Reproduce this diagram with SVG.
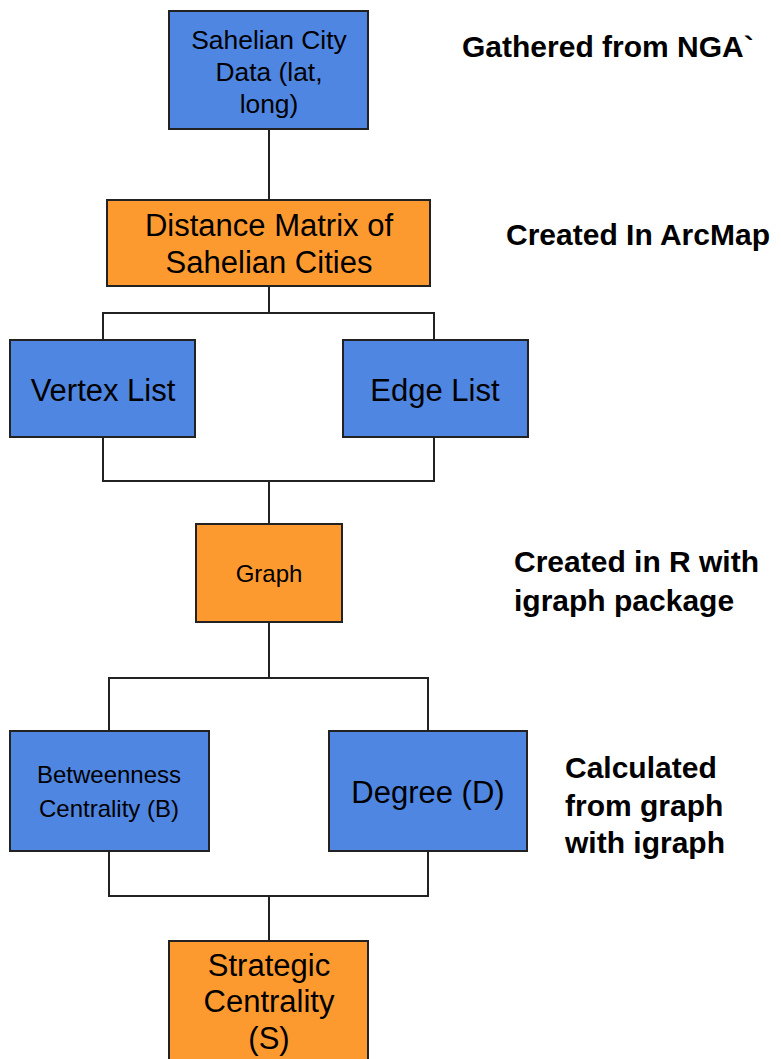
<svg xmlns="http://www.w3.org/2000/svg" width="781" height="1059" viewBox="0 0 781 1059">
  <style>
    .blue { fill: #4f86e2; stroke: #222; stroke-width: 2; }
    .orange { fill: #fd9a2f; stroke: #222; stroke-width: 2; }
    .lbl { font-family: "Liberation Sans", Arial, sans-serif; fill: #000; text-anchor: middle; }
    .note { font-family: "Liberation Sans", Arial, sans-serif; font-weight: bold; font-size: 30px; fill: #000; }
    .wire { fill: none; stroke: #222; stroke-width: 2; }
  </style>
  <rect width="781" height="1059" fill="#fff"/>

  <g id="connectors">
    <path class="wire" d="M269 129 V200"/>
    <path class="wire" d="M269 286 V313 M103 340 V313 H434 V340"/>
    <path class="wire" d="M103 437 V481 H434 V437 M269 481 V524"/>
    <path class="wire" d="M269 622 V678 M109 731 V678 H428 V731"/>
    <path class="wire" d="M109 851 V896 H428 V851 M269 896 V941"/>
  </g>

  <g id="node-city-data">
    <rect class="blue" x="169" y="11" width="199" height="118"/>
    <text class="lbl" font-size="26.4" x="269" y="49">Sahelian City</text>
    <text class="lbl" font-size="26.4" x="269" y="81">Data (lat,</text>
    <text class="lbl" font-size="26.4" x="269" y="113">long)</text>
  </g>

  <g id="node-distance-matrix">
    <rect class="orange" x="107" y="200" width="323" height="86"/>
    <text class="lbl" font-size="31" x="269" y="236">Distance Matrix of</text>
    <text class="lbl" font-size="31" x="269" y="273">Sahelian Cities</text>
  </g>

  <g id="node-vertex-list">
    <rect class="blue" x="10" y="340" width="185" height="97"/>
    <text class="lbl" font-size="31" x="103" y="401">Vertex List</text>
  </g>

  <g id="node-edge-list">
    <rect class="blue" x="343" y="340" width="185" height="97"/>
    <text class="lbl" font-size="31" x="435" y="401">Edge List</text>
  </g>

  <g id="node-graph">
    <rect class="orange" x="196" y="524" width="146" height="98"/>
    <text class="lbl" font-size="24" x="269" y="582">Graph</text>
  </g>

  <g id="node-betweenness">
    <rect class="blue" x="10" y="731" width="199" height="120"/>
    <text class="lbl" font-size="24" x="109" y="783">Betweenness</text>
    <text class="lbl" font-size="24" x="109" y="817">Centrality (B)</text>
  </g>

  <g id="node-degree">
    <rect class="blue" x="329" y="731" width="198" height="120"/>
    <text class="lbl" font-size="31" x="428" y="803">Degree (D)</text>
  </g>

  <g id="node-strategic">
    <rect class="orange" x="169" y="941" width="199" height="130"/>
    <text class="lbl" font-size="31" x="269" y="976">Strategic</text>
    <text class="lbl" font-size="31" x="269" y="1012">Centrality</text>
    <text class="lbl" font-size="31" x="269" y="1049">(S)</text>
  </g>

  <g id="notes">
    <text class="note" x="462" y="57">Gathered from NGA`</text>
    <text class="note" x="506" y="245">Created In ArcMap</text>
    <text class="note" x="514" y="572">Created in R with</text>
    <text class="note" x="514" y="611">igraph package</text>
    <text class="note" x="565" y="778">Calculated</text>
    <text class="note" x="565" y="816">from graph</text>
    <text class="note" x="565" y="853">with igraph</text>
  </g>
</svg>
